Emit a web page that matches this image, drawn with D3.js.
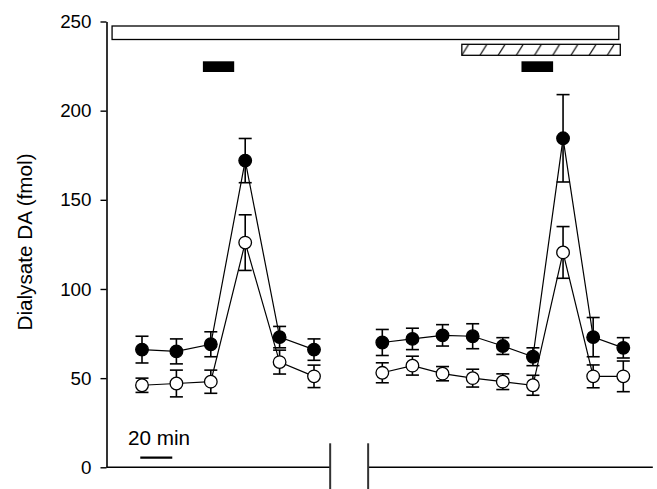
<!DOCTYPE html>
<html><head><meta charset="utf-8">
<script src="https://cdn.jsdelivr.net/npm/d3@7"></script>
<style>body{margin:0;background:#fff}svg{display:block}text{font-family:Arial,"Liberation Sans",sans-serif;fill:#000}</style>
</head><body>
<svg id="c" width="657" height="489"></svg>
<script>
// ---- data ----
const leftSamples = [0,1,2,3,4,5];
const rightSamples = [0,1,2,3,4,5,6,7,8];
const filledLeft = [66, 65, 69, 172, 73, 66];
const filledLeftErr = [7.5, 7, 7, 12.4, 6, 6];
const openLeft = [46, 47, 48, 126, 59, 51];
const openLeftErr = [4, 7.5, 6.5, 15.6, 6.7, 6.3];
const filledRight = [70, 72, 74, 73.5, 68, 62, 184.5, 73, 67];
const filledRightErr = [7.3, 6, 6, 7, 4.7, 5, 24.5, 11, 5.7];
const openRight = [53, 57, 52.5, 50, 48, 46, 120.5, 51, 51];
const openRightErr = [5.6, 5.3, 4, 5, 4.4, 5.6, 14.5, 6.4, 8.6];
const yTicks = [0, 50, 100, 150, 200, 250];
const yLabel = "Dialysate DA (fmol)";
const scaleBarLabel = "20 min";
// treatment bars, in sample units of each panel
const openBar = {startPanel:"left", start:-0.87, endPanel:"right", end:7.85};
const hatchBar = {panel:"right", start:2.64, end:7.9};
const solidBars = [{panel:"left", start:1.77, end:2.68}, {panel:"right", start:4.62, end:5.67}];

// ---- scales ----
const svg = d3.select("#c");
const y = d3.scaleLinear().domain([0,250]).range([467.3, 21.5]);
const xL = d3.scaleLinear().domain([0,5]).range([142,314]);
const xR = d3.scaleLinear().domain([0,8]).range([382.3,623.3]);
const sc = {left:xL, right:xR};
const leftExtent = [-1.04, 5.47], rightExtent = [-0.47, 8.98];

// hatch pattern
const defs = svg.append("defs");
const pat = defs.append("pattern").attr("id","hatch").attr("patternUnits","userSpaceOnUse")
  .attr("width",18.2).attr("height",11).attr("x",461.7).attr("y",44.3);
pat.append("line").attr("x1",0).attr("y1",11).attr("x2",7).attr("y2",0).attr("stroke","#000").attr("stroke-width",1.2);
pat.append("line").attr("x1",18.2).attr("y1",11).attr("x2",25.2).attr("y2",0).attr("stroke","#000").attr("stroke-width",1.2);

// y axis
const yAxis = d3.axisLeft(y).tickValues(yTicks).tickSize(6).tickSizeOuter(0).tickPadding(9);
const ga = svg.append("g").attr("transform","translate(106.5,0)").call(yAxis);
ga.select(".domain").attr("stroke","#000").attr("stroke-width",1.6);
ga.selectAll(".tick line").attr("stroke","#000").attr("stroke-width",1.4);
ga.selectAll(".tick text").attr("font-size",18.8).attr("font-family","Arial, 'Liberation Sans', sans-serif").attr("fill","#000");

svg.append("text").attr("transform","translate(32,242) rotate(-90)").attr("text-anchor","middle")
  .attr("font-size",20.7).text(yLabel);

// x axis segments with break
svg.append("line").attr("x1",106.5).attr("x2",xL(leftExtent[1])).attr("y1",y(0)).attr("y2",y(0)).attr("stroke","#000").attr("stroke-width",1.6);
svg.append("line").attr("x1",xR(rightExtent[0])).attr("x2",xR(rightExtent[1])).attr("y1",y(0)).attr("y2",y(0)).attr("stroke","#000").attr("stroke-width",1.6);
[xL(leftExtent[1]), xR(rightExtent[0])].forEach(xx=>{
  svg.append("line").attr("x1",xx).attr("x2",xx).attr("y1",y(0)-24).attr("y2",489).attr("stroke","#333").attr("stroke-width",2);
});

// scale bar
svg.append("line").attr("x1",xL(-0.05)).attr("x2",xL(0.88)).attr("y1",457.7).attr("y2",457.7).attr("stroke","#000").attr("stroke-width",2.2);
svg.append("text").attr("x",xL(-0.41)).attr("y",445).attr("font-size",20.7).text(scaleBarLabel);

// top bars
svg.append("rect").attr("x",sc[openBar.startPanel](openBar.start)).attr("y",26)
  .attr("width",sc[openBar.endPanel](openBar.end)-sc[openBar.startPanel](openBar.start)).attr("height",13.5)
  .attr("fill","#fff").attr("stroke","#000").attr("stroke-width",1.3);
svg.append("rect").attr("x",sc[hatchBar.panel](hatchBar.start)).attr("y",44.3)
  .attr("width",sc[hatchBar.panel](hatchBar.end)-sc[hatchBar.panel](hatchBar.start)).attr("height",11)
  .attr("fill","url(#hatch)").attr("stroke","#000").attr("stroke-width",1.3);
solidBars.forEach(b=>{
  svg.append("rect").attr("x",sc[b.panel](b.start)).attr("y",61.3)
    .attr("width",sc[b.panel](b.end)-sc[b.panel](b.start)).attr("height",10.7).attr("fill","#000");
});

// series
function drawSeries(xs, samples, vals, errs){
  const pts = samples.map((s,i)=>({x:xs(s), v:vals[i], e:errs[i]}));
  const line = d3.line().x(d=>d.x).y(d=>y(d.v));
  svg.append("path").datum(pts).attr("d",line).attr("fill","none").attr("stroke","#000").attr("stroke-width",1.2);
  const g = svg.append("g");
  pts.forEach(d=>{
    g.append("line").attr("x1",d.x).attr("x2",d.x).attr("y1",y(d.v+d.e)).attr("y2",y(d.v-d.e)).attr("stroke","#000").attr("stroke-width",1.6);
    [d.v+d.e, d.v-d.e].forEach(t=>{
      g.append("line").attr("x1",d.x-6.5).attr("x2",d.x+6.5).attr("y1",y(t)).attr("y2",y(t)).attr("stroke","#000").attr("stroke-width",1.6);
    });
  });
  return pts;
}
const allPts = [];
allPts.push([drawSeries(xL,leftSamples,openLeft,openLeftErr),false]);
allPts.push([drawSeries(xR,rightSamples,openRight,openRightErr),false]);
allPts.push([drawSeries(xL,leftSamples,filledLeft,filledLeftErr),true]);
allPts.push([drawSeries(xR,rightSamples,filledRight,filledRightErr),true]);
allPts.forEach(([pts,filled])=>{
  svg.append("g").selectAll("circle").data(pts).join("circle")
    .attr("cx",d=>d.x).attr("cy",d=>y(d.v)).attr("r",6.3)
    .attr("fill",filled?"#000":"#fff").attr("stroke","#000").attr("stroke-width",1.3);
});
</script>
</body></html>
